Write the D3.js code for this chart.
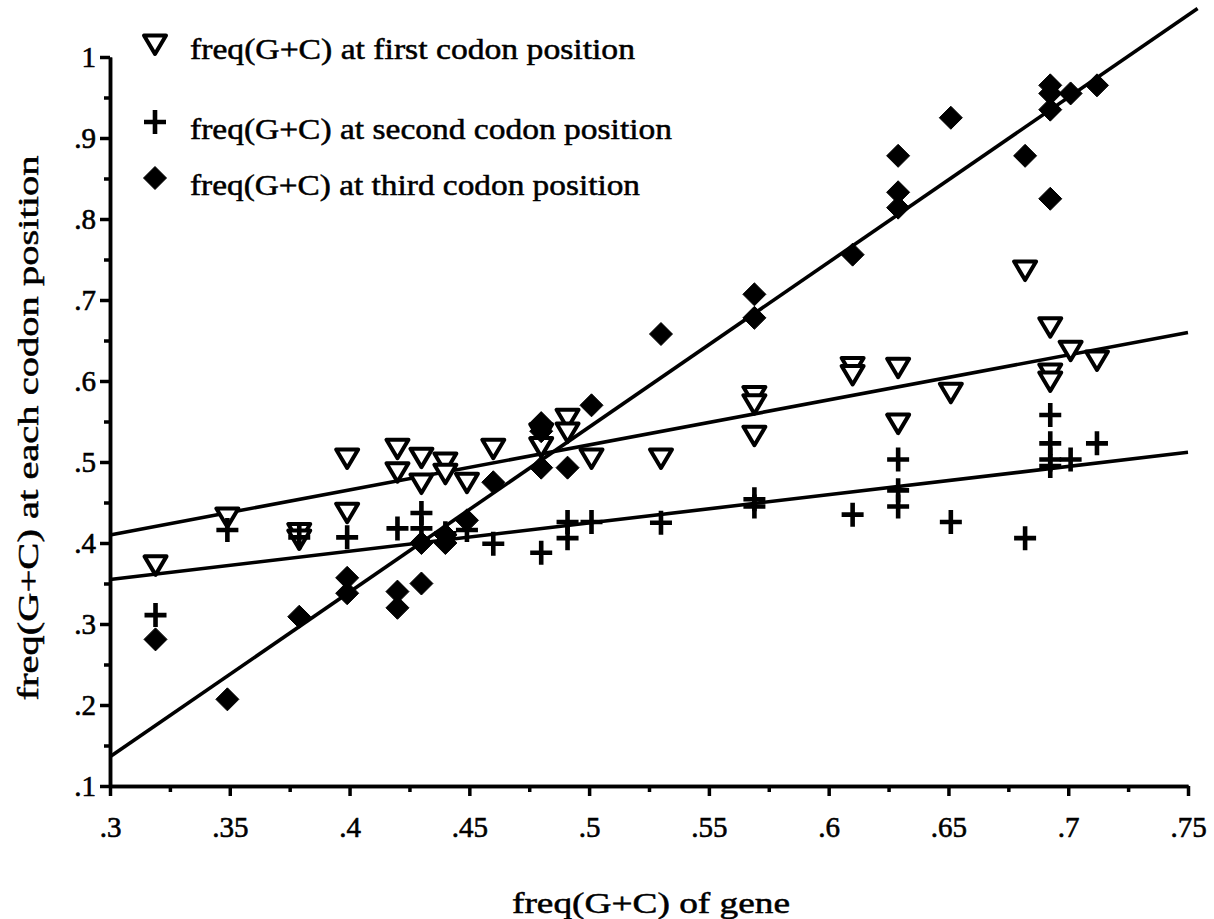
<!DOCTYPE html>
<html><head><meta charset="utf-8">
<script src="https://cdn.jsdelivr.net/npm/d3@7/dist/d3.min.js"></script>
<style>body{margin:0;background:#fff}svg{display:block}text{font-family:"Liberation Serif","Times New Roman",serif;fill:#000}</style>
</head><body><svg id="c" width="1214" height="919"></svg>
<script>
// ---- data ----
const xTicks = [.3,.35,.4,.45,.5,.55,.6,.65,.7,.75];
const yTicks = [.1,.2,.3,.4,.5,.6,.7,.8,.9,1];
const xTickLabels = [".3",".35",".4",".45",".5",".55",".6",".65",".7",".75"];
const yTickLabels = [".1",".2",".3",".4",".5",".6",".7",".8",".9","1"];
const legendLabels = ["freq(G+C) at first codon position","freq(G+C) at second codon position","freq(G+C) at third codon position"];
const firstPos = [[.319,.373],[.349,.432],[.379,.413],[.379,.405],[.399,.505],[.399,.438],[.42,.517],[.42,.488],[.43,.506],[.43,.474],[.44,.50],[.44,.486],[.449,.475],[.46,.517],[.48,.536],[.48,.519],[.491,.554],[.491,.537],[.501,.505],[.53,.505],[.569,.582],[.569,.572],[.569,.533],[.61,.618],[.61,.608],[.629,.617],[.629,.548],[.651,.586],[.682,.737],[.6925,.667],[.6925,.61],[.6925,.60],[.701,.638],[.712,.626]];
const secondPos = [[.319,.311],[.349,.416],[.379,.407],[.399,.407],[.42,.418],[.43,.437],[.43,.418],[.44,.412],[.449,.416],[.46,.399],[.48,.388],[.491,.426],[.491,.406],[.501,.426],[.53,.425],[.569,.454],[.569,.445],[.61,.435],[.629,.503],[.629,.465],[.629,.445],[.651,.426],[.682,.406],[.6925,.558],[.6925,.523],[.6925,.503],[.6925,.495],[.701,.503],[.712,.523]];
const thirdPos = [[.319,.281],[.349,.207],[.379,.309],[.399,.357],[.399,.338],[.42,.34],[.42,.32],[.43,.35],[.43,.40],[.44,.40],[.44,.41],[.449,.428],[.46,.475],[.48,.548],[.48,.538],[.48,.493],[.491,.493],[.501,.57],[.53,.658],[.569,.707],[.569,.678],[.61,.756],[.629,.878],[.629,.833],[.629,.814],[.651,.925],[.682,.878],[.6925,.965],[.6925,.955],[.6925,.935],[.6925,.825],[.701,.955],[.712,.965]];
const firstFit = [[.3,.41],[.75,.66]];
const secondFit = [[.3,.355],[.75,.512]];
const thirdFit = [[.3,.136],[.754,1.06]];

// ---- chart ----
const svg = d3.select("#c");
const x = d3.scaleLinear().domain([.3,.75]).range([110,1188]);
const y = d3.scaleLinear().domain([.1,1]).range([786,57]);

const xMinor = d3.range(0,19).map(i=>+(.3+i*.025).toFixed(3)).filter(v=>!xTicks.some(t=>Math.abs(t-v)<1e-6));
const yMinor = d3.range(0,19).map(i=>+(.1+i*.05).toFixed(3)).filter(v=>!yTicks.some(t=>Math.abs(t-v)<1e-6));

svg.append("g").attr("transform",`translate(0,${y(.1)})`)
  .call(d3.axisBottom(x).tickValues(xTicks).tickSize(10).tickSizeOuter(0).tickPadding(20)
    .tickFormat((d,i)=>xTickLabels[i]));
svg.append("g").attr("transform",`translate(0,${y(.1)})`)
  .call(d3.axisBottom(x).tickValues(xMinor).tickSize(6).tickSizeOuter(0).tickFormat(""));
svg.append("g").attr("transform",`translate(${x(.3)},0)`)
  .call(d3.axisLeft(y).tickValues(yTicks).tickSize(10).tickSizeOuter(0).tickPadding(4)
    .tickFormat((d,i)=>yTickLabels[i]));
svg.append("g").attr("transform",`translate(${x(.3)},0)`)
  .call(d3.axisLeft(y).tickValues(yMinor).tickSize(6).tickSizeOuter(0).tickFormat(""));
svg.selectAll(".domain").attr("stroke","#000").attr("stroke-width",3.5);
svg.selectAll(".tick line").attr("stroke","#000").attr("stroke-width",3.5);
svg.selectAll(".tick text").attr("font-size",29).attr("font-family","Liberation Serif")
  .attr("stroke","#000").attr("stroke-width",0.6);

// fit lines
const line = d3.line().x(d=>x(d[0])).y(d=>y(d[1]));
[firstFit,secondFit,thirdFit].forEach(f=>{
  svg.append("path").attr("d",line(f)).attr("fill","none").attr("stroke","#000").attr("stroke-width",3.6);
});

const triPath = "M-11,-8.5L11,-8.5L0,10Z";
const diaPath = "M0,-11.5L11.5,0L0,11.5L-11.5,0Z";
const plusPath = "M-11,0H11M0,-12V12";

function drawTri(g,cx,cy){ g.append("path").attr("d",triPath).attr("transform",`translate(${cx},${cy})`).attr("fill","#fff").attr("stroke","#000").attr("stroke-width",4).attr("stroke-linejoin","round"); }
function drawPlus(g,cx,cy){ g.append("path").attr("d",plusPath).attr("transform",`translate(${cx},${cy})`).attr("fill","none").attr("stroke","#000").attr("stroke-width",4.6); }
function drawDia(g,cx,cy){ g.append("path").attr("d",diaPath).attr("transform",`translate(${cx},${cy})`).attr("fill","#000").attr("stroke","#000").attr("stroke-width",1).attr("stroke-linejoin","round"); }

const gm = svg.append("g");
firstPos.forEach(d=>drawTri(gm,x(d[0]),y(d[1])));
secondPos.forEach(d=>drawPlus(gm,x(d[0]),y(d[1])));
thirdPos.forEach(d=>drawDia(gm,x(d[0]),y(d[1])));

// legend
const legY = [50,130,186];
const legW = [445,482,450];
const lg = svg.append("g");
drawTri(lg,155,legY[0]-6);
drawPlus(lg,155,legY[1]-8);
drawDia(lg,155,legY[2]-8);
legendLabels.forEach((t,i)=>{
  lg.append("text").attr("x",190).attr("y",legY[i]+9).attr("font-size",29)
    .attr("stroke","#000").attr("stroke-width",0.5)
    .attr("textLength",legW[i]).attr("lengthAdjust","spacingAndGlyphs").text(t);
});

// axis titles
svg.append("text").attr("x",651).attr("y",913).attr("text-anchor","middle").attr("font-size",29)
  .attr("stroke","#000").attr("stroke-width",0.5)
  .attr("textLength",278).attr("lengthAdjust","spacingAndGlyphs").text("freq(G+C) of gene");
svg.append("text").attr("transform","translate(38,428) rotate(-90)").attr("text-anchor","middle").attr("font-size",29)
  .attr("stroke","#000").attr("stroke-width",0.5)
  .attr("textLength",545).attr("lengthAdjust","spacingAndGlyphs").text("freq(G+C) at each codon position");
</script></body></html>
